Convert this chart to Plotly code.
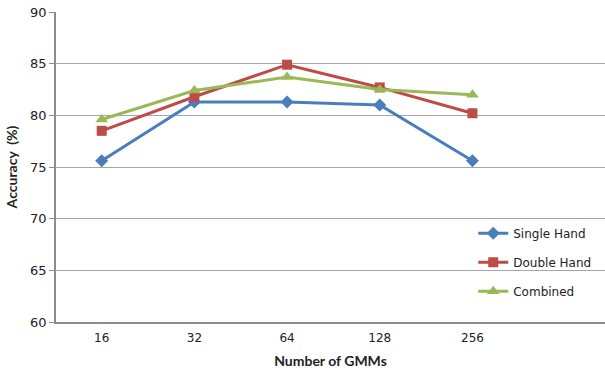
import plotly.graph_objects as go

gmm_counts = ["16", "32", "64", "128", "256"]
single_hand = [75.6, 81.3, 81.3, 81.0, 75.6]
double_hand = [78.5, 81.8, 84.9, 82.7, 80.2]
combined = [79.6, 82.4, 83.7, 82.5, 82.0]

series = [
    ("Single Hand", single_hand, "#4A7EBB", "diamond", 10),
    ("Double Hand", double_hand, "#BE4B48", "square", 10),
    ("Combined", combined, "#98B954", "triangle-up", 11),
]

x_idx = list(range(len(gmm_counts)))

fig = go.Figure()
for i, (name, vals, color, symbol, size) in enumerate(series):
    fig.add_trace(go.Scatter(
        x=x_idx, y=vals, name=name, mode="lines+markers",
        legendgroup=f"g{i}",
        line=dict(color=color, width=3),
        marker=dict(symbol=symbol, size=size, color=color),
    ))

axis_grey = "#8C8C8C"
fig.update_layout(
    width=605, height=372,
    margin=dict(l=56, r=0, t=12, b=50),
    paper_bgcolor="white", plot_bgcolor="white",
    font=dict(family="DejaVu Sans", size=12, color="#222222"),
    showlegend=True,
    legend=dict(
        x=0.76, y=0.333, xanchor="left", yanchor="top",
        bgcolor="rgba(0,0,0,0)", borderwidth=0,
        traceorder="grouped", tracegroupgap=10,
        font=dict(family="DejaVu Sans", size=12, color="#222222"),
        itemwidth=30,
    ),
    xaxis=dict(
        range=[-0.493, 5.43],
        tickmode="array", tickvals=x_idx, ticktext=gmm_counts,
        showgrid=False, zeroline=False,
        showline=True, linecolor=axis_grey, linewidth=1.5,
        ticks="", ticklabelstandoff=4,
        tickfont=dict(family="DejaVu Sans", size=12),
        title=dict(text="<b>Number of GMMs</b>", standoff=12,
                   font=dict(family="Lato", size=14)),
    ),
    yaxis=dict(
        range=[60, 90], dtick=5,
        showgrid=True, gridcolor="#A6A6A6", gridwidth=1.2,
        zeroline=False,
        showline=True, linecolor=axis_grey, linewidth=1.5,
        ticks="outside", ticklen=5, tickcolor=axis_grey,
        tickfont=dict(family="DejaVu Sans", size=13),
        title=dict(text="<b>Accuracy  (%)</b>", standoff=9,
                   font=dict(family="Lato", size=14)),
    ),
)

fig.write_html("out.html")
